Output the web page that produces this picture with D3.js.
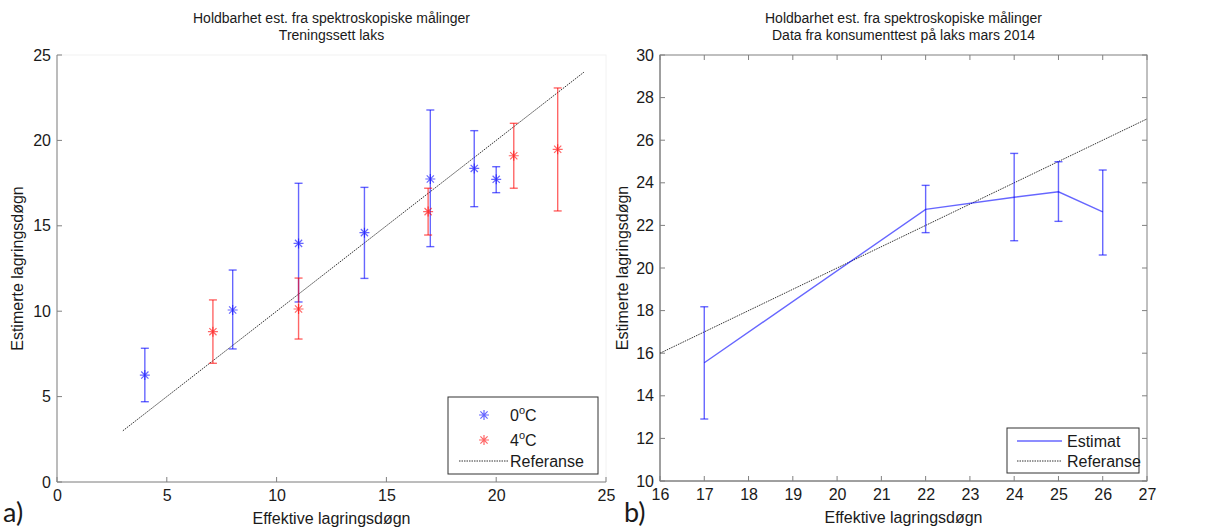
<!DOCTYPE html>
<html>
<head>
<meta charset="utf-8">
<script src="https://cdn.jsdelivr.net/npm/d3@7"></script>
<style>
  body { margin: 0; background: #fff; }
  svg text { font-family: "Liberation Sans", Arial, sans-serif; fill: #1a1a1a; }
</style>
</head>
<body>
<svg id="chart" width="1228" height="528"></svg>
<script>
// Left panel: 0C series (x, estimate, lower, upper)
const leftX0 = [4, 8, 11, 14, 17, 19, 20];
const leftY0 = [6.26, 10.07, 13.97, 14.6, 17.74, 18.36, 17.72];
const leftLo0 = [4.70, 7.79, 10.54, 11.92, 13.78, 16.12, 16.94];
const leftHi0 = [7.83, 12.41, 17.49, 17.25, 21.78, 20.57, 18.46];

// Left panel: 4C series
const leftX4 = [7.1, 11, 16.9, 20.8, 22.8];
const leftY4 = [8.8, 10.13, 15.83, 19.1, 19.48];
const leftLo4 = [6.95, 8.37, 14.46, 17.2, 15.87];
const leftHi4 = [10.66, 11.94, 17.2, 21.0, 23.07];

const leftRef = [3, 24];
const leftXTicks = [0, 5, 10, 15, 20, 25];
const leftYTicks = [0, 5, 10, 15, 20, 25];

// Right panel: consumer test
const rightX = [17, 22, 24, 25, 26];
const rightY = [15.55, 22.75, 23.32, 23.58, 22.63];
const rightLo = [12.91, 21.66, 21.28, 22.19, 20.61];
const rightHi = [18.18, 23.88, 25.38, 24.99, 24.6];

const rightRef = [16, 27];
const rightXTicks = d3.range(16, 28, 1);
const rightYTicks = d3.range(10, 31, 2);

const svg = d3.select('#chart');

const BLUE = 'rgba(0,0,255,0.6)';
const RED = 'rgba(255,0,0,0.6)';

// 8 armed asterisk like matlab '*'
function asterisk(r) {
  const d = r * 0.72;
  return `M${-r},0L${r},0M0,${-r}L0,${r}M${-d},${-d}L${d},${d}M${-d},${d}L${d},${-d}`;
}

function drawAxes(g, x, y, xTicks, yTicks, opts) {
  const w = x.range()[1], h = y.range()[0];

  // frame
  g.append('rect')
    .attr('x', 0).attr('y', 0).attr('width', w).attr('height', h)
    .attr('fill', 'none')
    .attr('stroke', opts.faintFrame ? '#f2f2f2' : '#808080')
    .attr('stroke-width', 1);
  g.append('line').attr('x1', 0).attr('x2', w).attr('y1', h).attr('y2', h).attr('stroke', '#808080');
  g.append('line').attr('x1', 0).attr('x2', 0).attr('y1', 0).attr('y2', h).attr('stroke', '#808080');

  const xAxis = d3.axisBottom(x).tickValues(xTicks).tickSize(0).tickPadding(8);
  const yAxis = d3.axisLeft(y).tickValues(yTicks).tickSize(0).tickPadding(6);

  const xg = g.append('g').attr('transform', `translate(0,${h})`).call(xAxis);
  const yg = g.append('g').call(yAxis);
  [xg, yg].forEach(a => {
    a.select('.domain').remove();
    a.selectAll('text').attr('font-size', 16).attr('fill', '#1a1a1a');
  });

  // inward tick marks
  g.selectAll('line.xt').data(xTicks).enter().append('line')
    .attr('x1', d => x(d)).attr('x2', d => x(d))
    .attr('y1', h).attr('y2', h - 5).attr('stroke', '#808080');
  g.selectAll('line.yt').data(yTicks).enter().append('line')
    .attr('x1', 0).attr('x2', 5)
    .attr('y1', d => y(d)).attr('y2', d => y(d)).attr('stroke', '#808080');
  if (opts.allTicks) {
    g.selectAll('line.xt2').data(xTicks).enter().append('line')
      .attr('x1', d => x(d)).attr('x2', d => x(d))
      .attr('y1', 0).attr('y2', 5).attr('stroke', '#808080');
    g.selectAll('line.yt2').data(yTicks).enter().append('line')
      .attr('x1', w).attr('x2', w - 5)
      .attr('y1', d => y(d)).attr('y2', d => y(d)).attr('stroke', '#808080');
  }

  // titles and labels
  g.append('text').attr('x', w / 2).attr('y', -32).attr('text-anchor', 'middle')
    .attr('font-size', 14).text(opts.title1);
  g.append('text').attr('x', w / 2).attr('y', -15).attr('text-anchor', 'middle')
    .attr('font-size', 14).text(opts.title2);
  g.append('text').attr('x', w / 2).attr('y', h + 42).attr('text-anchor', 'middle')
    .attr('font-size', 16).text('Effektive lagringsdøgn');
  g.append('text').attr('transform', `translate(${opts.yLabelX},${h / 2}) rotate(-90)`)
    .attr('text-anchor', 'middle').attr('font-size', 16).text('Estimerte lagringsdøgn');
}

function errorBars(g, x, y, xs, ys, lo, hi, color, marker) {
  const cap = 4;
  xs.forEach((xv, i) => {
    const cx = x(xv);
    g.append('line').attr('x1', cx).attr('x2', cx).attr('y1', y(lo[i])).attr('y2', y(hi[i]))
      .attr('stroke', color).attr('stroke-width', 1.4);
    [lo[i], hi[i]].forEach(v => {
      g.append('line').attr('x1', cx - cap).attr('x2', cx + cap).attr('y1', y(v)).attr('y2', y(v))
        .attr('stroke', color).attr('stroke-width', 1.4);
    });
    if (marker) {
      g.append('path').attr('d', asterisk(5))
        .attr('transform', `translate(${cx},${y(ys[i])})`)
        .attr('stroke', color).attr('stroke-width', 1.2).attr('fill', 'none');
    }
  });
}

// ---------- panel a ----------
const mA = { left: 57, top: 55 };
const wA = 549, hA = 427;
const gA = svg.append('g').attr('transform', `translate(${mA.left},${mA.top})`);
const xA = d3.scaleLinear().domain([0, 25]).range([0, wA]);
const yA = d3.scaleLinear().domain([0, 25]).range([hA, 0]);

drawAxes(gA, xA, yA, leftXTicks, leftYTicks, {
  faintFrame: true, allTicks: false,
  title1: 'Holdbarhet est. fra spektroskopiske målinger',
  title2: 'Treningssett laks',
  yLabelX: -34
});

gA.append('line')
  .attr('x1', xA(leftRef[0])).attr('y1', yA(leftRef[0]))
  .attr('x2', xA(leftRef[1])).attr('y2', yA(leftRef[1]))
  .attr('stroke', '#333').attr('stroke-width', 1).attr('stroke-dasharray', '1.5,1');

errorBars(gA, xA, yA, leftX0, leftY0, leftLo0, leftHi0, BLUE, true);
errorBars(gA, xA, yA, leftX4, leftY4, leftLo4, leftHi4, RED, true);

// legend a
const legA = gA.append('g').attr('transform', `translate(${448 - mA.left},${397 - mA.top})`);
legA.append('rect').attr('width', 150).attr('height', 77).attr('fill', '#fff').attr('stroke', '#333');
[['0', BLUE, 18], ['4', RED, 43]].forEach(([t, c, yy]) => {
  legA.append('path').attr('d', asterisk(5)).attr('transform', `translate(36,${yy})`)
    .attr('stroke', c).attr('stroke-width', 1.2).attr('fill', 'none');
  const tx = legA.append('text').attr('x', 62).attr('y', yy + 6).attr('font-size', 16);
  tx.append('tspan').text(t);
  tx.append('tspan').attr('dy', -7).attr('font-size', 11).text('o');
  tx.append('tspan').attr('dy', 7).text('C');
});
legA.append('line').attr('x1', 11).attr('x2', 61).attr('y1', 64).attr('y2', 64)
  .attr('stroke', '#333').attr('stroke-dasharray', '1.5,1');
legA.append('text').attr('x', 62).attr('y', 70).attr('font-size', 16).text('Referanse');

// ---------- panel b ----------
const mB = { left: 660, top: 55 };
const wB = 487, hB = 426;
const gB = svg.append('g').attr('transform', `translate(${mB.left},${mB.top})`);
const xB = d3.scaleLinear().domain([16, 27]).range([0, wB]);
const yB = d3.scaleLinear().domain([10, 30]).range([hB, 0]);

drawAxes(gB, xB, yB, rightXTicks, rightYTicks, {
  faintFrame: false, allTicks: true,
  title1: 'Holdbarhet est. fra spektroskopiske målinger',
  title2: 'Data fra konsumenttest på laks mars 2014',
  yLabelX: -32
});

gB.append('line')
  .attr('x1', xB(rightRef[0])).attr('y1', yB(rightRef[0]))
  .attr('x2', xB(rightRef[1])).attr('y2', yB(rightRef[1]))
  .attr('stroke', '#333').attr('stroke-width', 1).attr('stroke-dasharray', '1.5,1');

const lineB = d3.line().x((d, i) => xB(rightX[i])).y(d => yB(d));
gB.append('path').datum(rightY).attr('d', lineB)
  .attr('fill', 'none').attr('stroke', BLUE).attr('stroke-width', 1.4);
errorBars(gB, xB, yB, rightX, rightY, rightLo, rightHi, BLUE, false);

// legend b
const legB = gB.append('g').attr('transform', `translate(${1007 - mB.left},${428 - mB.top})`);
legB.append('rect').attr('width', 132).attr('height', 45).attr('fill', '#fff').attr('stroke', '#333');
legB.append('line').attr('x1', 10).attr('x2', 55).attr('y1', 13).attr('y2', 13)
  .attr('stroke', BLUE).attr('stroke-width', 1.4);
legB.append('text').attr('x', 60).attr('y', 19).attr('font-size', 16).text('Estimat');
legB.append('line').attr('x1', 10).attr('x2', 55).attr('y1', 33).attr('y2', 33)
  .attr('stroke', '#333').attr('stroke-dasharray', '1.5,1');
legB.append('text').attr('x', 60).attr('y', 39).attr('font-size', 16).text('Referanse');

// panel letters
svg.append('text').attr('x', 3).attr('y', 522).attr('font-size', 27)
  .style('font-family', 'Lato, "Open Sans", sans-serif').text('a)');
svg.append('text').attr('x', 624).attr('y', 522).attr('font-size', 27)
  .style('font-family', 'Lato, "Open Sans", sans-serif').text('b)');
</script>
</body>
</html>
